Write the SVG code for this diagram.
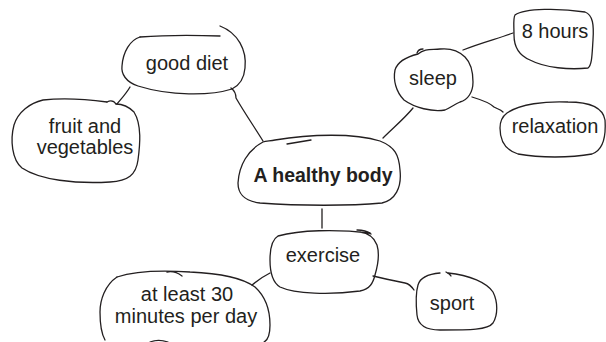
<svg xmlns="http://www.w3.org/2000/svg" width="606" height="342" viewBox="0 0 606 342">
<style>
.b{fill:none;stroke:#231f20;stroke-width:1.3;stroke-linecap:round;stroke-linejoin:round}
.t{font-family:"Liberation Sans",Arial,sans-serif;font-size:20px;fill:#231f20;text-anchor:middle}
.bold{font-weight:bold;font-size:19.5px}
</style>
<rect width="606" height="342" fill="#ffffff"/>
<g id="connectors">
<path class="b" d="M130 87 C126 94 121 99 117 104"/>
<path class="b" d="M231 88 C235 91 236 94 236 98 C244 112 255 128 263 141"/>
<path class="b" d="M383 138 C393 128 405 118 413 108"/>
<path class="b" d="M322 209 L322 228"/>
<path class="b" d="M463 50 C480 43 500 38 513 33"/>
<path class="b" d="M472 97 C482 100 490 103 494 107 C497 109 500 109 503 112"/>
<path class="b" d="M270 273 C264 276 258 280 252 285"/>
<path class="b" d="M373 276 C385 279 395 281 405 283 C410 284 412 287 414 290"/>
</g>
<g id="good-diet">
<path class="b" d="M140 37 C165 35 195 35 220 36"/>
<path class="b" d="M220 26 C238 33 247 50 245 68 C244 80 238 86 232 89 C210 96 170 96 138 86 C126 82 121 74 122 66 C123 52 130 40 140 37"/>
<text class="t" x="187" y="70">good diet</text>
</g>
<g id="fruit-and-vegetables">
<path class="b" d="M107 102 C85 99 60 98 43 100 C30 103 18 112 14 125 C10 140 12 160 22 168 C40 180 75 184 110 182 C128 181 136 175 138 160 C140 145 142 125 134 112 C128 106 122 104 116 104"/>
<path class="b" d="M107 102 C111 100 114 101 116 104"/>
<text class="t" x="85" y="133">fruit and</text>
<text class="t" x="85" y="154">vegetables</text>
</g>
<g id="a-healthy-body">
<path class="b" d="M287 144 L311 140"/>
<path class="b" d="M263 142 C248 150 239 165 238 183 C238 195 245 201 260 203 C300 206 350 206 382 203 C395 200 402 188 400 170 C399 155 395 147 380 141 C355 133 310 134 275 140 C270 141 266 141 263 142"/>
<text class="t bold" x="323" y="182">A healthy body</text>
</g>
<g id="sleep">
<path class="b" d="M418 54 C410 56 398 60 395 70 C393 80 396 92 404 100 C415 108 432 112 445 110 C450 108 455 104 460 102 C468 100 473 92 473 82 C473 70 470 62 465 57 C458 50 450 48 440 49 C432 50 425 48 418 54"/>
<path class="b" d="M417 53 C418 50 420 49 423 49"/>
<text class="t" x="433" y="85">sleep</text>
</g>
<g id="eight-hours">
<path class="b" d="M515 15 C525 8 560 8 585 12 C593 15 594 25 593 40 C592 55 592 65 588 68 C570 70 545 68 530 60 C518 55 514 45 514 35 C514 25 513 18 515 15"/>
<text class="t" x="555" y="38">8 hours</text>
</g>
<g id="relaxation">
<path class="b" d="M507 113 C520 104 545 101 568 102 C590 102 603 108 605 120 C606 135 604 150 592 154 C570 158 540 158 518 154 C505 150 500 140 500 128 C500 120 503 116 507 113"/>
<text class="t" x="555" y="133">relaxation</text>
</g>
<g id="exercise">
<path class="b" d="M370 233 C335 229 300 230 278 236 C271 240 270 250 270 260 C270 272 272 282 280 287 C295 294 330 295 360 291 C370 289 373 283 375 275 C378 265 380 255 377 245 C374 237 368 233 360 232"/>
<path class="b" d="M357 230 C362 230 367 231 371 234"/>
<text class="t" x="323" y="262">exercise</text>
</g>
<g id="at-least-30">
<path class="b" d="M117 277 C135 271 160 270 190 272 C215 273 240 276 255 287 C266 297 270 310 270 325 C270 333 268 340 264 342"/>
<path class="b" d="M117 277 C105 285 100 300 100 312 C100 325 101 333 105 340"/>
<path class="b" d="M167 272 C172 271 178 273 182 276"/>
<path class="b" d="M150 342 C155 340 162 340 168 342"/>
<text class="t" x="187" y="301">at least 30</text>
<text class="t" x="186" y="323">minutes per day</text>
</g>
<g id="sport">
<path class="b" d="M448 273 C470 275 487 283 493 292 C498 302 498 315 493 323 C488 330 470 330 440 330 C425 330 418 325 417 315 C416 305 415 295 418 285 C420 278 428 274 440 273"/>
<path class="b" d="M446 272 C448 273 450 274 451 276"/>
<text class="t" x="452" y="310">sport</text>
</g>
</svg>
